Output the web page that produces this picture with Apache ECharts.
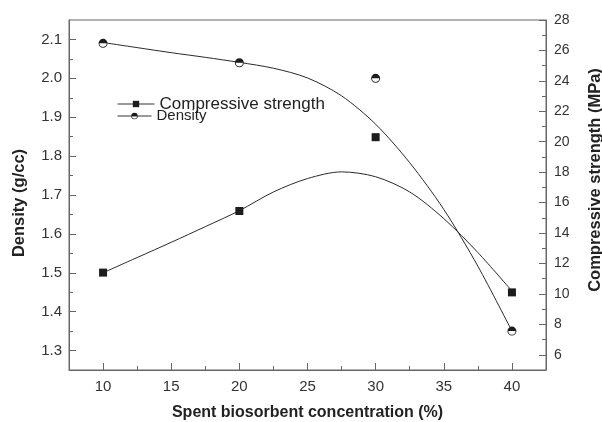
<!DOCTYPE html>
<html>
<head>
<meta charset="utf-8">
<script src="https://cdn.jsdelivr.net/npm/echarts@6/dist/echarts.min.js"></script>
<style>
  html, body { margin: 0; padding: 0; background: #fff; }
  #chart { width: 602px; height: 422px; }
</style>
</head>
<body>
<div id="chart"></div>
<script>
// Measured samples: concentration vs density / compressive strength
const concentration = [10, 20, 30, 40];
const density = [2.09, 2.04, 2.00, 1.35];            // g/cc, left axis
const strength = [11.4, 15.45, 20.3, 10.1];           // MPa, right axis

// Fitted trend curves (x, value) as traced along each fit
const densityFit = [
  [10, 2.092], [12.5, 2.079], [15, 2.066], [17.5, 2.054], [20, 2.041],
  [22.5, 2.026], [25, 2.001], [27.5, 1.955], [30, 1.882], [32.5, 1.783],
  [35, 1.663], [37.5, 1.517], [40, 1.350]
];
const strengthFit = [
  [10, 11.39], [12.5, 12.39], [15, 13.39], [17.5, 14.42], [20, 15.47],
  [22.5, 16.70], [25, 17.58], [27.5, 18.02], [30, 17.70], [32.5, 16.70],
  [35, 14.95], [37.5, 12.72], [40, 10.19]
];

// Tick positions
const xMajor = [10, 15, 20, 25, 30, 35, 40];
const xMinor = [12.5, 17.5, 22.5, 27.5, 32.5, 37.5];
const leftMajor = [1.3, 1.4, 1.5, 1.6, 1.7, 1.8, 1.9, 2.0, 2.1];
const leftMinor = [1.35, 1.45, 1.55, 1.65, 1.75, 1.85, 1.95, 2.05];
const rightMajor = [6, 8, 10, 12, 14, 16, 18, 20, 22, 24, 26, 28];
const rightMinor = [7, 9, 11, 13, 15, 17, 19, 21, 23, 25, 27];

const FONT = 'Liberation Sans, Arial, Helvetica, sans-serif';
const AXIS_COLOR = '#666';
const INK = '#1c1c1c';

// Ring with the upper half filled
const halfCircle = 'path://M0,5 A5,5 0 1 1 10,5 A5,5 0 1 1 0,5 Z ' +
  'M1,5 A4,4 0 1 0 9,5 A4,4 0 1 0 1,5 Z ' +
  'M1,5 A4,4 0 0 1 9,5 Z';

const axisLineStyle = { color: AXIS_COLOR, width: 1 };

function minorAxis(base) {
  return Object.assign({
    type: 'value',
    axisLine: { show: false },
    axisLabel: { show: false },
    splitLine: { show: false }
  }, base);
}

const chart = echarts.init(document.getElementById('chart'), null, { renderer: 'canvas' });

chart.setOption({
  animation: false,
  backgroundColor: '#fff',
  textStyle: { fontFamily: FONT },
  grid: {
    left: 69, right: 56, top: 20, bottom: 52,
    outerBoundsMode: 'none', containLabel: false,
    show: true, borderColor: AXIS_COLOR, borderWidth: 1, backgroundColor: 'transparent'
  },
  legend: [
    {
      data: ['Compressive strength'],
      orient: 'vertical',
      left: 117, top: 95, padding: 0,
      itemWidth: 37, itemHeight: 8, itemGap: 0,
      textStyle: { fontSize: 17, color: '#222', fontFamily: FONT, lineHeight: 18 },
      lineStyle: { color: '#333', width: 1, opacity: 1, type: 'solid' },
      selectedMode: false
    },
    {
      data: ['Density'],
      orient: 'vertical',
      left: 117, top: 108, padding: 0,
      itemWidth: 34, itemHeight: 8, itemGap: 0,
      textStyle: { fontSize: 15, color: '#222', fontFamily: FONT, lineHeight: 16 },
      lineStyle: { color: '#333', width: 1, opacity: 1, type: 'solid' },
      selectedMode: false
    }
  ],
  xAxis: [
    {
      type: 'value', min: 7.5, max: 42.5, position: 'bottom',
      axisLine: { show: true, lineStyle: axisLineStyle },
      axisTick: { show: true, inside: true, length: 7, customValues: xMajor, lineStyle: axisLineStyle },
      axisLabel: { customValues: xMajor, fontSize: 15, color: '#333', margin: 9, fontFamily: FONT },
      splitLine: { show: false },
      name: 'Spent biosorbent concentration (%)',
      nameLocation: 'middle', nameGap: 35,
      nameTextStyle: { fontSize: 16, fontWeight: 'bold', color: '#222', fontFamily: FONT }
    },
    minorAxis({
      min: 7.5, max: 42.5, position: 'bottom',
      axisTick: { show: true, inside: true, length: 4, customValues: xMinor, lineStyle: axisLineStyle }
    })
  ],
  yAxis: [
    {
      type: 'value', min: 1.25, max: 2.15, position: 'left',
      axisLine: { show: true, lineStyle: axisLineStyle },
      axisTick: { show: true, inside: true, length: 7, customValues: leftMajor, lineStyle: axisLineStyle },
      axisLabel: {
        customValues: leftMajor, fontSize: 15, color: '#333', margin: 7, fontFamily: FONT,
        formatter: v => v.toFixed(1)
      },
      splitLine: { show: false },
      name: 'Density (g/cc)',
      nameLocation: 'middle', nameGap: 41,
      nameTextStyle: { fontSize: 16.5, fontWeight: 'bold', color: '#222', fontFamily: FONT, padding: [0, 16, 0, 0] }
    },
    {
      type: 'value', min: 5, max: 28, position: 'right',
      axisLine: { show: true, lineStyle: axisLineStyle },
      axisTick: { show: true, inside: true, length: 7, customValues: rightMajor, lineStyle: axisLineStyle },
      axisLabel: {
        customValues: rightMajor, fontSize: 14, color: '#333', margin: 8, fontFamily: FONT,
        formatter: v => String(Math.round(v))
      },
      splitLine: { show: false },
      name: 'Compressive strength (MPa)',
      nameLocation: 'middle', nameGap: 41,
      nameTextStyle: { fontSize: 16.5, fontWeight: 'bold', color: '#222', fontFamily: FONT, padding: [0, 0, 0, 30] }
    },
    minorAxis({
      min: 1.25, max: 2.15, position: 'left',
      axisTick: { show: true, inside: true, length: 4, customValues: leftMinor, lineStyle: axisLineStyle }
    }),
    minorAxis({
      min: 5, max: 28, position: 'right',
      axisTick: { show: true, inside: true, length: 4, customValues: rightMinor, lineStyle: axisLineStyle }
    })
  ],
  series: [
    {
      name: 'density-fit', type: 'line', xAxisIndex: 0, yAxisIndex: 0,
      data: densityFit, smooth: 0.3, symbol: 'none', z: 2, silent: true,
      lineStyle: { color: '#2a2a2a', width: 1 }
    },
    {
      name: 'strength-fit', type: 'line', xAxisIndex: 0, yAxisIndex: 1,
      data: strengthFit, smooth: 0.3, symbol: 'none', z: 2, silent: true,
      lineStyle: { color: '#2a2a2a', width: 1 }
    },
    {
      name: 'density-backing', type: 'scatter', xAxisIndex: 0, yAxisIndex: 0,
      data: concentration.map((c, i) => [c, density[i]]),
      symbol: 'circle', symbolSize: 9, z: 3, silent: true,
      itemStyle: { color: '#fff', borderWidth: 0 }
    },
    {
      name: 'Compressive strength', type: 'line', xAxisIndex: 0, yAxisIndex: 1,
      data: concentration.map((c, i) => [c, strength[i]]),
      symbol: 'rect', symbolSize: 8, showSymbol: true, z: 4,
      itemStyle: { color: INK, borderWidth: 0 },
      lineStyle: { color: '#333', width: 1, opacity: 0 }
    },
    {
      name: 'Density', type: 'line', xAxisIndex: 0, yAxisIndex: 0,
      data: concentration.map((c, i) => [c, density[i]]),
      symbol: halfCircle, symbolSize: 9, showSymbol: true, z: 4,
      itemStyle: { color: INK, borderWidth: 0 },
      lineStyle: { color: '#333', width: 1, opacity: 0 }
    }
  ]
});
</script>
</body>
</html>
